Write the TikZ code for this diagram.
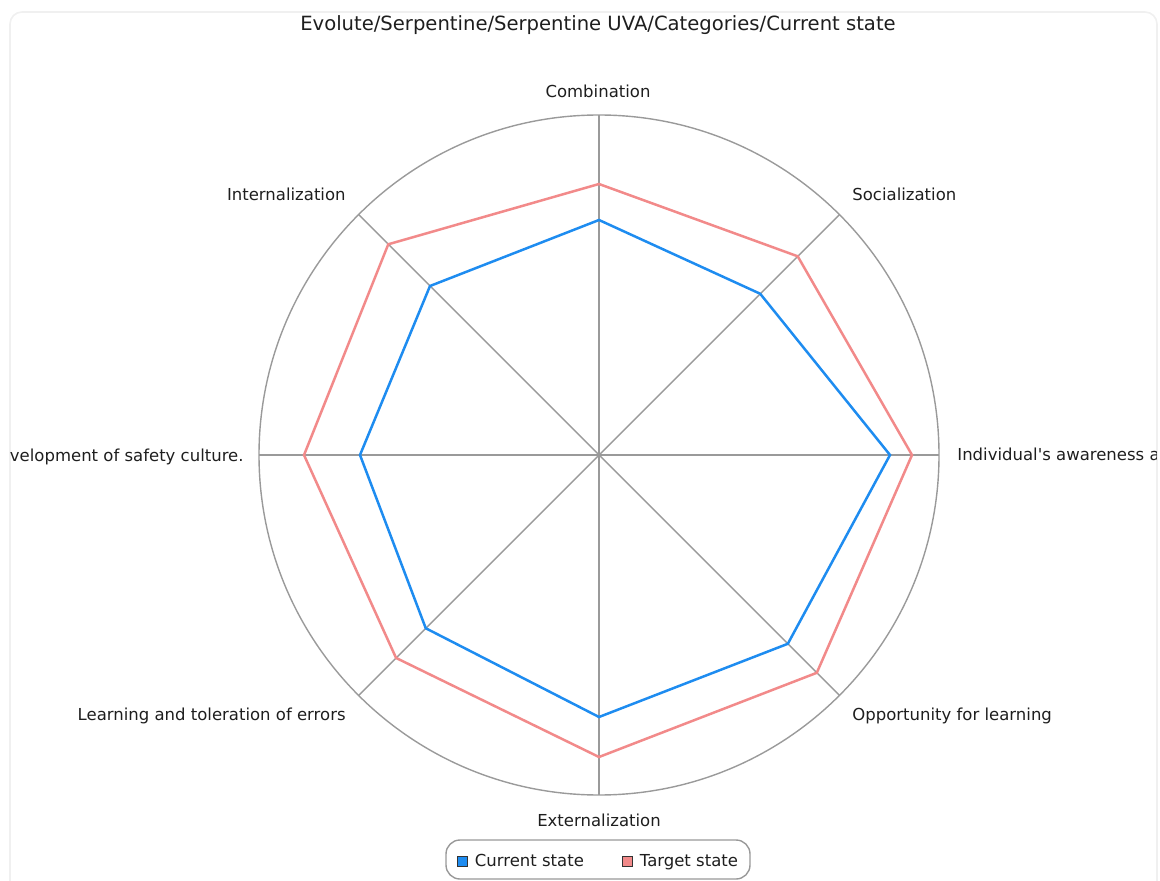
\documentclass[tikz,border=0pt]{standalone}
\usepackage{fontspec}
\setmainfont{DejaVu Sans}[Ligatures=TeXOff]
\usetikzlibrary{positioning}

\definecolor{curblue}{HTML}{1E8CF0}
\definecolor{tgtred}{HTML}{F28A8A}
\definecolor{gridgray}{HTML}{9A9A9A}
\definecolor{labeltext}{HTML}{1E1E1E}

\begin{document}
\begin{tikzpicture}[
    x=0.5pt,y=-0.5pt,
    font=\fontsize{8.25}{10}\selectfont,
    text=labeltext,
    gridline/.style={draw=gridgray,line width=0.7pt},
    series/.style={line width=1.25pt,line join=miter},
    axislabel/.style={inner sep=0pt},
    legendtext/.style={inner sep=0pt,text height=0.72em,text depth=0.2em},
    legendkey/.style={
      draw=black!80,line width=0.5pt,minimum size=5pt,inner sep=0pt
    }
  ]
  \useasboundingbox (0,0) rectangle (1160,881);
  \clip (0,0) rectangle (1160,881);

  % frame
  \draw[draw=black!6,line width=0.8pt,rounded corners=6pt] (10,12) rectangle (1157,905);

  \coordinate (c) at (599,455);

  % axes, values of both series
  \foreach \i/\a/\cv/\tv in {1/-90/235/271, 2/-45/228/281, 3/0/291/313,
      4/45/267/308, 5/90/262/302, 6/135/245/287, 7/180/239/295, 8/225/239/298} {
    \coordinate (ax\i)  at ([shift={(\a:340)}]c);
    \coordinate (cur\i) at ([shift={(\a:\cv)}]c);
    \coordinate (tgt\i) at ([shift={(\a:\tv)}]c);
    \draw[gridline] (c) -- (ax\i);
  }
  \draw[gridline] (c) circle (170pt);

  \draw[series,tgtred]  (tgt1) \foreach \i in {2,...,8} {-- (tgt\i)} -- cycle;
  \draw[series,curblue] (cur1) \foreach \i in {2,...,8} {-- (cur\i)} -- cycle;

  % labels
  \node (title) [font=\fontsize{9.8}{12}\selectfont] at (598,25)
    {Evolute/Serpentine/Serpentine UVA/Categories/Current state};
  \node (comb)  [axislabel] at (598,91) {Combination};
  \node (soc)   [axislabel,anchor=west] at (852,194) {Socialization};
  \node (opp)   [axislabel,anchor=west] at (852,716) {Opportunity for learning};
  \node (ext)   [axislabel] at (599,820) {Externalization};
  \node (learn) [axislabel,anchor=east] at (346,716) {Learning and toleration of errors};
  \node (int)   [axislabel,anchor=east] at (346,194) {Internalization};
  \begin{scope}
    \clip (10,0) rectangle (1156,881);
    \node (indiv) [axislabel,anchor=west] at (957,456) {Individual's awareness and responsibility};
    \node (dev)   [axislabel,anchor=east] at (244,457) {Development of safety culture.};
  \end{scope}

  % legend
  \draw[draw=black!40,line width=0.7pt,rounded corners=7pt,fill=white] (446,840) rectangle (750,879);
  \node (curkey) [legendkey,fill=curblue] at (462,861) {};
  \node (curtxt) [legendtext,right=3.5pt of curkey] {Current state};
  \node (tgtkey) [legendkey,fill=tgtred] at (627,861) {};
  \node (tgttxt) [legendtext,right=3.5pt of tgtkey] {Target state};
\end{tikzpicture}
\end{document}
